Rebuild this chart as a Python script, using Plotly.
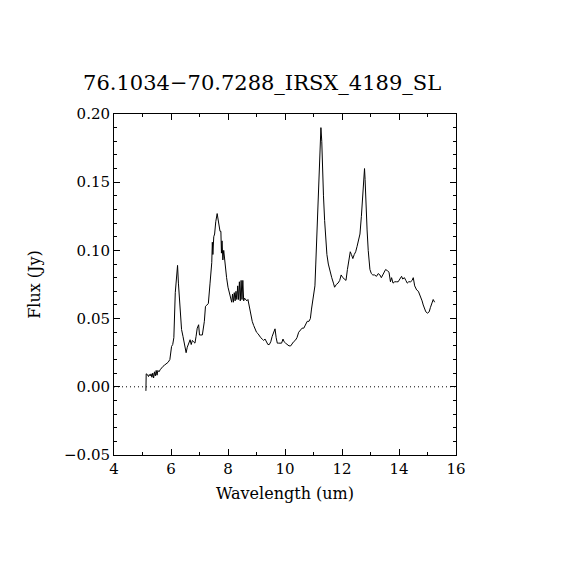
import plotly.graph_objects as go

# spectro IRS SL, leido a ojo del grafico original
wavelength = [
    5.12, 5.13, 5.17, 5.21, 5.24, 5.27, 5.30, 5.33, 5.36, 5.39,
    5.42, 5.45, 5.48, 5.51, 5.54, 5.58, 5.62, 5.67, 5.72, 5.78,
    5.85, 5.90, 5.96, 6.02, 6.06, 6.10, 6.15, 6.20, 6.23, 6.26,
    6.32, 6.37, 6.42, 6.46, 6.53, 6.57, 6.61, 6.67, 6.71, 6.75,
    6.79, 6.84, 6.88, 6.92, 6.97, 7.00, 7.05, 7.10, 7.17, 7.21,
    7.26, 7.31, 7.37, 7.43, 7.45, 7.47, 7.50, 7.53, 7.57, 7.62,
    7.65, 7.68, 7.72, 7.75, 7.77, 7.79, 7.82, 7.85, 7.90, 7.95,
    8.00, 8.05, 8.09, 8.13, 8.16, 8.19, 8.22, 8.25, 8.28, 8.31,
    8.34, 8.37, 8.40, 8.43, 8.46, 8.49, 8.52, 8.55, 8.58, 8.62,
    8.66, 8.70, 8.75, 8.80, 8.85, 8.90, 8.95, 9.00, 9.05, 9.10,
    9.15, 9.20, 9.25, 9.30, 9.35, 9.40, 9.45, 9.50, 9.55, 9.60,
    9.65, 9.69, 9.73, 9.78, 9.83, 9.88, 9.93, 9.97, 10.02, 10.08,
    10.14, 10.20, 10.25, 10.30, 10.36, 10.42, 10.48, 10.54, 10.60, 10.66,
    10.72, 10.78, 10.84, 10.89, 10.93, 10.97, 11.01, 11.05, 11.08, 11.11,
    11.14, 11.17, 11.20, 11.23, 11.26, 11.29, 11.32, 11.35, 11.39, 11.43,
    11.47, 11.52, 11.58, 11.64, 11.70, 11.74, 11.80, 11.86, 11.92, 11.97,
    12.03, 12.09, 12.14, 12.19, 12.25, 12.29, 12.33, 12.38, 12.43, 12.48,
    12.53, 12.58, 12.63, 12.68, 12.72, 12.76, 12.79, 12.81, 12.84, 12.88,
    12.92, 12.98, 13.03, 13.08, 13.14, 13.21, 13.27, 13.33, 13.38, 13.43,
    13.48, 13.53, 13.60, 13.65, 13.70, 13.74, 13.79, 13.85, 13.91, 13.97,
    14.03, 14.09, 14.13, 14.19, 14.24, 14.29, 14.34, 14.41, 14.46, 14.50,
    14.55, 14.59, 14.62, 14.68, 14.72, 14.77, 14.81, 14.85, 14.90, 14.94,
    15.00, 15.06, 15.10, 15.15, 15.20, 15.25,
]
flux = [
    -0.003, 0.0095, 0.009, 0.0075, 0.009, 0.008, 0.0095, 0.007, 0.010, 0.0065,
    0.011, 0.008, 0.012, 0.0085, 0.012, 0.011, 0.0125, 0.014, 0.015, 0.016,
    0.017, 0.018, 0.020, 0.0296, 0.031, 0.036, 0.069, 0.083, 0.089, 0.076,
    0.052, 0.042, 0.037, 0.032, 0.025, 0.029, 0.032, 0.0345, 0.031, 0.034,
    0.033, 0.032, 0.037, 0.043, 0.0455, 0.038, 0.038, 0.038, 0.048, 0.059,
    0.060, 0.061, 0.076, 0.091, 0.106, 0.097, 0.110, 0.112, 0.121, 0.127,
    0.123, 0.117, 0.114, 0.114, 0.098, 0.107, 0.093, 0.100, 0.088, 0.080,
    0.073, 0.069, 0.067, 0.062, 0.068, 0.062, 0.069, 0.063, 0.070, 0.064,
    0.074, 0.064, 0.077, 0.063, 0.078, 0.064, 0.078, 0.063, 0.065, 0.064,
    0.063, 0.064, 0.058, 0.052, 0.048, 0.045, 0.042, 0.040, 0.039, 0.037,
    0.036, 0.035, 0.034, 0.035, 0.033, 0.031, 0.031, 0.033, 0.037, 0.040,
    0.0425, 0.036, 0.032, 0.032, 0.032, 0.032, 0.035, 0.033, 0.032, 0.031,
    0.030, 0.030, 0.032, 0.033, 0.034, 0.036, 0.040, 0.042, 0.043, 0.043,
    0.046, 0.048, 0.048, 0.050, 0.057, 0.062, 0.068, 0.074, 0.090, 0.105,
    0.122, 0.138, 0.155, 0.170, 0.190, 0.180, 0.155, 0.140, 0.122, 0.108,
    0.097, 0.090, 0.084, 0.080, 0.076, 0.073, 0.075, 0.076, 0.078, 0.082,
    0.080, 0.079, 0.078, 0.086, 0.095, 0.099, 0.097, 0.094, 0.097, 0.099,
    0.103, 0.108, 0.112, 0.125, 0.140, 0.152, 0.160, 0.152, 0.130, 0.115,
    0.100, 0.086, 0.083, 0.082, 0.082, 0.081, 0.083, 0.082, 0.080, 0.082,
    0.085, 0.086, 0.085, 0.084, 0.077, 0.080, 0.076, 0.077, 0.077, 0.077,
    0.079, 0.081, 0.079, 0.080, 0.078, 0.076, 0.077, 0.077, 0.078, 0.080,
    0.074, 0.072, 0.071, 0.070, 0.068, 0.066, 0.063, 0.060, 0.057, 0.055,
    0.054, 0.055, 0.058, 0.061, 0.064, 0.062,
]

fuente = "DejaVu Serif"

fig = go.Figure()

# espectro
fig.add_trace(go.Scatter(x=wavelength, y=flux, mode='lines',
                         line=dict(color='black', width=1), showlegend=False))

# linea de cero punteada
fig.add_hline(y=0, line=dict(color='black', width=1, dash='1px,3px'))

ejes = dict(showgrid=False, zeroline=False, showline=True, linecolor='black', linewidth=1,
            mirror='allticks', ticks='inside', ticklen=6, tickcolor='black', tickwidth=1,
            tickfont=dict(family=fuente, size=15, color='black'))

fig.update_xaxes(range=[4, 16], tick0=4, dtick=2,
                 minor=dict(dtick=1, ticks='inside', ticklen=3, tickcolor='black'),
                 title=dict(text='Wavelength (um)', font=dict(family=fuente, size=16, color='black'),
                            standoff=10),
                 **ejes)
fig.update_yaxes(range=[-0.05, 0.20], tick0=0, dtick=0.05, tickformat='.2f',
                 minor=dict(dtick=0.01, ticks='inside', ticklen=3, tickcolor='black'),
                 title=dict(text='Flux (Jy)', font=dict(family=fuente, size=16, color='black'),
                            standoff=19),
                 **ejes)

# la pagina se desplaza 8px, por eso los margenes
fig.update_layout(
    width=570, height=570,
    margin=dict(l=106, r=122, t=106, b=123),
    paper_bgcolor='white', plot_bgcolor='white',
    title=dict(text='76.1034\u221270.7288_IRSX_4189_SL', x=0.433, xref='paper', xanchor='center',
               y=1 - 75 / 570, yref='container', yanchor='middle',
               font=dict(family=fuente, size=21, color='black')),
)

fig.write_html("out.html")
